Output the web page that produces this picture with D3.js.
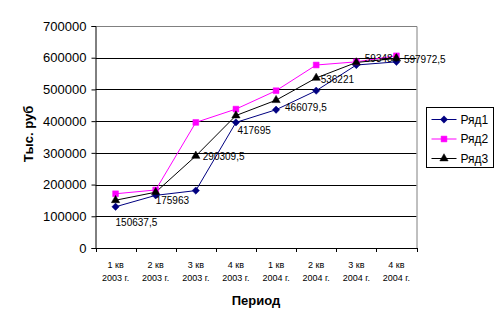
<!DOCTYPE html>
<html><head><meta charset="utf-8">
<script src="https://cdn.jsdelivr.net/npm/d3@7"></script>
<style>
html,body{margin:0;padding:0;background:#fff;}
text{font-family:Arial,"Liberation Sans",sans-serif;}
</style></head>
<body><svg id="c" width="503" height="326"></svg>
<script>
// ---- data ----
const categories = [["1 кв","2003 г."],["2 кв","2003 г."],["3 кв","2003 г."],["4 кв","2003 г."],
                    ["1 кв","2004 г."],["2 кв","2004 г."],["3 кв","2004 г."],["4 кв","2004 г."]];
const seriesNames = ["Ряд1","Ряд2","Ряд3"];
const ryad1 = [130000, 166000, 181000, 396000, 436000, 496000, 577000, 587000];
const ryad2 = [171000, 183000, 396000, 438000, 496000, 577000, 587000, 606000];
const ryad3 = [150637.5, 175963, 290309.5, 417695, 466079.5, 536221, 585000, 597972.5];
const ryad3Labels = ["150637,5","175963","290309,5","417695","466079,5","536221","593484","597972,5"];
const yTicks = [0,100000,200000,300000,400000,500000,600000,700000];

// ---- styles / layout ----
const colors = ["#000080","#FF00FF","#000000"];
const symbols = [d3.symbolDiamond2 || d3.symbolDiamond, d3.symbolSquare, d3.symbolTriangle];
const symSizes = [34, 34, 30];
const labelOffsets = [[0,22],[0,8.5],[7,1],[1.5,15],[9,7],[4.5,2],[8.5,-4],[7.5,1.5]];

const svg = d3.select("#c");
const plot = {left:95.5, right:416.5, top:26, bottom:248};

const idx = d3.range(categories.length);
const x = d3.scaleBand().domain(idx).range([plot.left, plot.right]).paddingInner(0).paddingOuter(0);
const y = d3.scaleLinear().domain([0,700000]).range([plot.bottom, plot.top]);
const cx = i => x(i) + x.bandwidth()/2;

// grid lines
svg.append("g").selectAll("line").data(yTicks.filter(v => v>0 && v<700000)).join("line")
  .attr("x1", plot.left).attr("x2", plot.right)
  .attr("y1", d => Math.round(y(d))+0.5).attr("y2", d => Math.round(y(d))+0.5)
  .attr("stroke","#000").attr("stroke-width",1);
// plot border top/right (gray)
svg.append("path")
  .attr("d", `M${plot.left},${plot.top+0.5}H${plot.right+0.5}V${plot.bottom}`)
  .attr("fill","none").attr("stroke","#808080").attr("stroke-width",1);

// y axis
const yAxis = svg.append("g").attr("transform",`translate(${plot.left},0)`)
  .call(d3.axisLeft(y).tickValues(yTicks).tickSize(4).tickPadding(5).tickFormat(d3.format("d")));
yAxis.select(".domain").attr("stroke","#000");
yAxis.selectAll(".tick line").attr("stroke","#000");
yAxis.selectAll("text").attr("font-size",13).attr("fill","#000").attr("font-family","Arial, 'Liberation Sans', sans-serif");

// x axis line and boundary ticks
svg.append("line").attr("x1",plot.left).attr("x2",plot.right+0.5)
  .attr("y1",plot.bottom+0.5).attr("y2",plot.bottom+0.5).attr("stroke","#000");
svg.append("g").selectAll("line").data(d3.range(categories.length+1)).join("line")
  .attr("x1", d => Math.round(plot.left + d*x.step())+0.5)
  .attr("x2", d => Math.round(plot.left + d*x.step())+0.5)
  .attr("y1", plot.bottom).attr("y2", plot.bottom+4).attr("stroke","#000");
const xl = svg.append("g").selectAll("text").data(idx).join("text")
  .attr("text-anchor","middle").attr("font-size",9).attr("fill","#000");
xl.append("tspan").attr("x", d => cx(d)).attr("y", plot.bottom+20).text(d => categories[d][0]);
xl.append("tspan").attr("x", d => cx(d)).attr("y", plot.bottom+33).text(d => categories[d][1]);

// axis titles
svg.append("text").attr("x",(plot.left+plot.right)/2).attr("y",305)
  .attr("text-anchor","middle").attr("font-size",13).attr("font-weight","bold").text("Период");
svg.append("text").attr("transform","translate(33,134) rotate(-90)")
  .attr("text-anchor","middle").attr("font-size",13).attr("font-weight","bold").text("Тыс. руб");

// series
const allSeries = [ryad1, ryad2, ryad3];
const line = d3.line().x((d,i)=>cx(i)).y(d=>y(d));
allSeries.forEach((s,k)=>{
  svg.append("path").datum(s).attr("d",line).attr("fill","none")
    .attr("stroke",colors[k]).attr("stroke-width",1);
});
allSeries.forEach((s,k)=>{
  svg.append("g").selectAll("path").data(s).join("path")
    .attr("d", d3.symbol().type(symbols[k]).size(symSizes[k]))
    .attr("transform",(d,i)=>`translate(${cx(i)},${y(d)})`)
    .attr("fill",colors[k]).attr("stroke",colors[k]).attr("stroke-width",0.5);
});

// data labels (Ряд3)
svg.append("g").selectAll("text").data(ryad3).join("text")
  .attr("x",(d,i)=>cx(i)+labelOffsets[i][0])
  .attr("y",(d,i)=>y(d)+labelOffsets[i][1])
  .attr("dy","0.35em").attr("font-size",10).attr("fill","#000")
  .text((d,i)=>ryad3Labels[i]);

// legend
const lg = svg.append("g").attr("transform","translate(426.5,107.5)");
lg.append("rect").attr("width",67).attr("height",60).attr("fill","#fff").attr("stroke","#000");
seriesNames.forEach((n,k)=>{
  const ly = 12 + k*19.5;
  lg.append("line").attr("x1",5).attr("x2",30).attr("y1",ly).attr("y2",ly).attr("stroke",colors[k]);
  lg.append("path").attr("d", d3.symbol().type(symbols[k]).size(symSizes[k]))
    .attr("transform",`translate(17.5,${ly})`).attr("fill",colors[k]).attr("stroke",colors[k]).attr("stroke-width",0.5);
  lg.append("text").attr("x",34).attr("y",ly).attr("dy","0.35em").attr("font-size",12).text(n);
});
</script></body></html>
